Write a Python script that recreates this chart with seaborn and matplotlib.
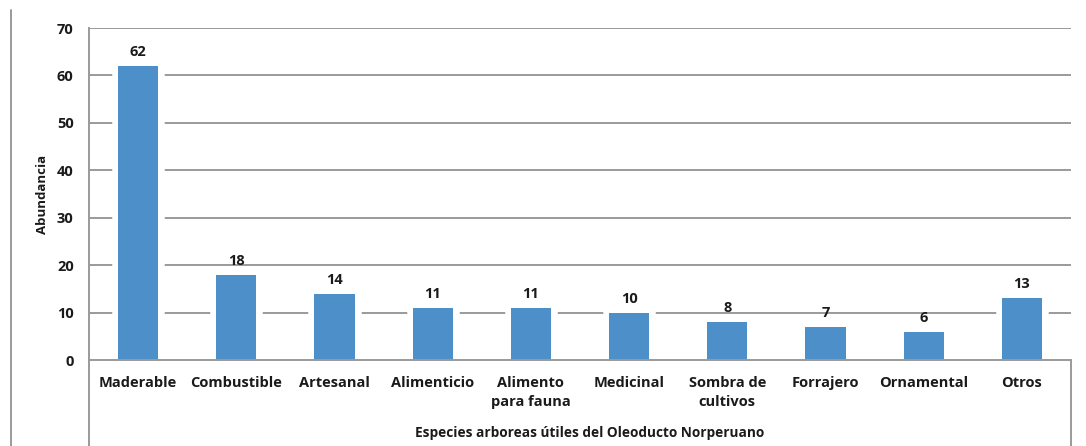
import matplotlib
matplotlib.use("Agg")
import matplotlib.pyplot as plt
import matplotlib.patheffects as pe
from matplotlib.lines import Line2D
import seaborn as sns
import pandas as pd

categorias = ["Maderable", "Combustible", "Artesanal", "Alimenticio", "Alimento\npara fauna",
              "Medicinal", "Sombra de\ncultivos", "Forrajero", "Ornamental", "Otros"]
abundancia = [62, 18, 14, 11, 11, 10, 8, 7, 6, 13]
y_ticks = [0, 10, 20, 30, 40, 50, 60, 70]

df = pd.DataFrame({"uso": categorias, "abundancia": abundancia})

sns.set_theme(style="white")
plt.rcParams["font.family"] = ["Open Sans", "DejaVu Sans"]

W, H = 1086, 446
fig = plt.figure(figsize=(W / 100, H / 100), dpi=100)
fig.patch.set_facecolor("white")
ax = fig.add_axes([89 / W, 1 - 360 / H, (1071 - 89) / W, (360 - 28) / H])
ax.set_facecolor("white")

grid_color = "#9a9a9a"
text_color = "#1a1a1a"
for v in y_ticks[1:]:
    ax.axhline(v, color=grid_color, lw=1.4, zorder=0)

sns.barplot(data=df, x="uso", y="abundancia", color="#4d8fc8", saturation=1,
            width=0.41, ax=ax, zorder=2)
for p in ax.patches:
    p.set_linewidth(0)
    p.set_path_effects([pe.withStroke(linewidth=9, foreground="white"), pe.Normal()])

for i, v in enumerate(abundancia):
    ax.annotate(str(v), (i, v), xytext=(0, 5), textcoords="offset points",
                ha="center", va="bottom", fontsize=10.5, fontweight="bold",
                color=text_color, zorder=5)

ax.set_ylim(0, 70)
ax.set_xlim(-0.5, len(categorias) - 0.5)
ax.set_yticks(y_ticks)
ax.set_yticklabels([str(t) for t in y_ticks], fontsize=10.5, fontweight="bold", color=text_color)
ax.set_xticks(range(len(categorias)))
ax.set_xticklabels(categorias, fontsize=10.5, fontweight="bold", color=text_color,
                   linespacing=1.45, va="top")
ax.tick_params(axis="x", length=0, pad=11.5)
ax.tick_params(axis="y", length=0, pad=11)

ax.set_xlabel("")
ax.set_ylabel("Abundancia", fontsize=9.5, fontweight="bold", color=text_color, labelpad=6)

for side in ["top", "right"]:
    ax.spines[side].set_visible(False)
for side in ["left", "bottom"]:
    ax.spines[side].set_color(grid_color)
    ax.spines[side].set_linewidth(1.4)
    ax.spines[side].set_zorder(6)

# chart frame and extended axis line below the plot area
frame_kw = dict(color=grid_color, lw=1.4, transform=fig.transFigure)
fig.add_artist(Line2D([11 / W, 11 / W], [0, 1 - 10 / H], **frame_kw))
fig.add_artist(Line2D([89 / W, 89 / W], [0, 1 - 360 / H], **frame_kw))
fig.add_artist(Line2D([1071 / W, 1071 / W], [0, 1 - 360 / H], **frame_kw))

fig.text(590 / W, 1 - 433 / H, "Especies arboreas útiles del Oleoducto Norperuano",
         ha="center", va="center", fontsize=9.8, fontweight="bold", color=text_color)

fig.savefig("out.png", dpi=100)
